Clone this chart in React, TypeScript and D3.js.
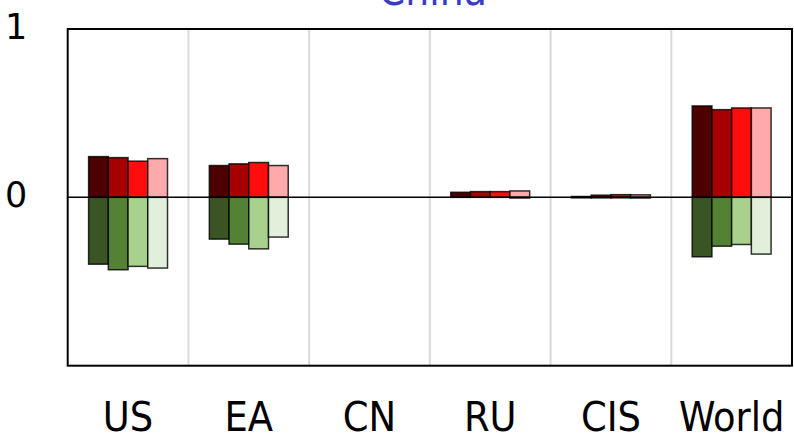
import React from "react";
import * as d3 from "d3";

const categories = ["US", "EA", "CN", "RU", "CIS", "World"];
const seriesKeys = ["s1", "s2", "s3", "s4"];
// positive (red) contributions
const redValues = [
  [0.242, 0.236, 0.215, 0.23],
  [0.189, 0.199, 0.207, 0.189],
  [0, 0, 0, 0],
  [0.03, 0.034, 0.034, 0.038],
  [0.005, 0.013, 0.016, 0.015],
  [0.543, 0.521, 0.531, 0.531],
];
// negative (green) contributions
const greenValues = [
  [-0.397, -0.43, -0.41, -0.42],
  [-0.248, -0.278, -0.306, -0.236],
  [0, 0, 0, 0],
  [0, 0, 0, -0.004],
  [-0.003, -0.003, -0.003, -0.004],
  [-0.353, -0.29, -0.28, -0.337],
];
const yTicks = [0, 1];
const title = "China";

const redColors = ["#4d0000", "#a60000", "#ff0d0d", "#ffaaaa"];
const greenColors = ["#3a5423", "#548235", "#a9d18e", "#e2efda"];

const W = 794;
const H = 434;
const left = 67.7;
const right = 792;
const top = 29;
const bottom = 365.7;

export default function App() {
  const x = d3.scaleBand<string>().domain(categories).range([left, right]).paddingInner(0).paddingOuter(0);
  const y = d3.scaleLinear().domain([-1, 1]).range([bottom, top]);
  const inner = d3
    .scaleBand<string>()
    .domain(seriesKeys)
    .range([0, x.bandwidth()])
    .paddingOuter(1.06)
    .paddingInner(0);

  const boundaries = categories.slice(1).map((c) => x(c) as number);
  const fontAxis = "'DejaVu Sans Condensed', 'DejaVu Sans', sans-serif";

  return (
    <svg width={W} height={H} style={{ position: "absolute", left: 0, top: 0 }}>
      <rect x={0} y={0} width={W} height={H} fill="#ffffff" />
      {boundaries.map((bx, i) => (
        <line key={"g" + i} x1={bx} x2={bx} y1={top} y2={bottom} stroke="#d9d9d9" strokeWidth={2} />
      ))}
      {categories.map((c, ci) => (
        <g key={c}>
          {seriesKeys.map((k, si) => {
            const bx = (x(c) as number) + (inner(k) as number);
            const bw = inner.bandwidth();
            const rv = redValues[ci][si];
            const gv = greenValues[ci][si];
            return (
              <g key={k}>
                {rv !== 0 && (
                  <rect
                    x={bx}
                    y={y(rv)}
                    width={bw}
                    height={y(0) - y(rv)}
                    fill={redColors[si]}
                    stroke="#000"
                    strokeOpacity={0.8}
                    strokeWidth={1.5}
                  />
                )}
                {gv !== 0 && (
                  <rect
                    x={bx}
                    y={y(0)}
                    width={bw}
                    height={y(gv) - y(0)}
                    fill={greenColors[si]}
                    stroke="#000"
                    strokeOpacity={0.8}
                    strokeWidth={1.5}
                  />
                )}
              </g>
            );
          })}
        </g>
      ))}
      <line x1={left} x2={right} y1={y(0)} y2={y(0)} stroke="#000" strokeWidth={1.5} />
      <rect x={left} y={top} width={right - left} height={bottom - top} fill="none" stroke="#000" strokeWidth={2} />
      {yTicks.map((t) => (
        <text
          key={"t" + t}
          x={5}
          y={y(t) + 9.5}
          fontSize={35}
          fontFamily="'DejaVu Sans', sans-serif"
          fill="#000"
        >
          {t}
        </text>
      ))}
      {categories.map((c) => (
        <text
          key={"l" + c}
          x={(x(c) as number) + x.bandwidth() / 2}
          y={431}
          fontSize={41}
          textAnchor="middle"
          fontFamily={fontAxis}
          fontStretch="condensed"
          fill="#000"
        >
          {c}
        </text>
      ))}
      <text
        x={(left + right) / 2 + 3}
        y={5}
        fontSize={42}
        textAnchor="middle"
        fontFamily={fontAxis}
        fontStretch="condensed"
        fill="#3a3ac8"
      >
        {title}
      </text>
    </svg>
  );
}
